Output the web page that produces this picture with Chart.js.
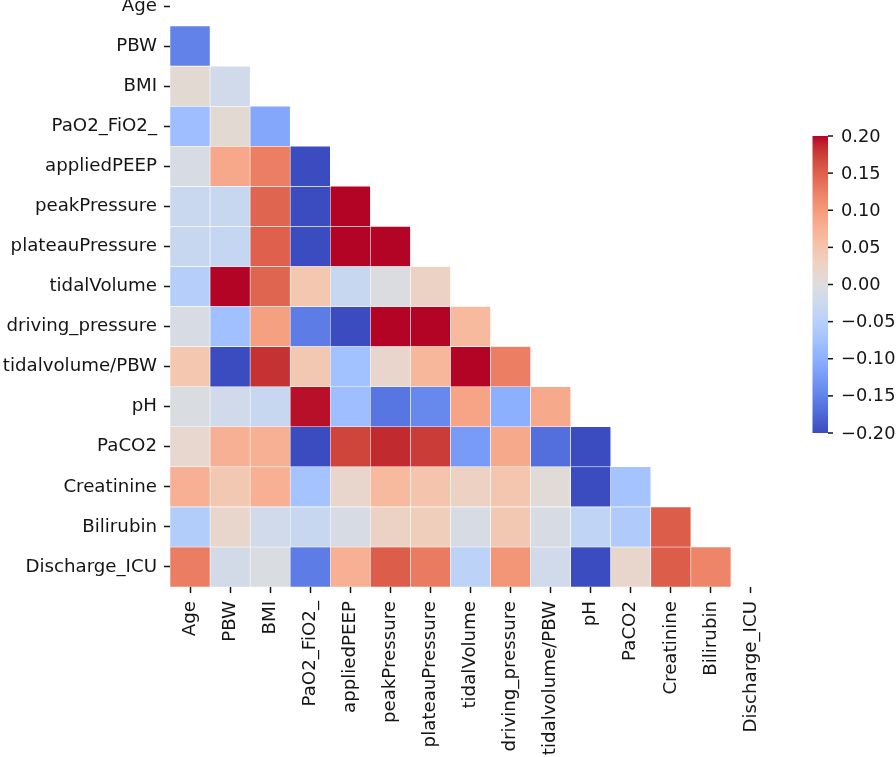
<!DOCTYPE html>
<html>
<head>
<meta charset="utf-8">
<script src="https://cdn.jsdelivr.net/npm/chart.js@4.4.1/dist/chart.umd.min.js"></script>
<style>
  html, body { margin: 0; padding: 0; background: #ffffff; overflow: hidden; }
  #wrap { position: absolute; left: 0; top: -14px; width: 896px; height: 771px; }
</style>
</head>
<body>
<div id="wrap"><canvas id="heat" width="896" height="771"></canvas></div>
<script>
// variable names (rows and columns of the correlation matrix)
const labels = ['Age', 'PBW', 'BMI', 'PaO2_FiO2_', 'appliedPEEP', 'peakPressure', 'plateauPressure',
  'tidalVolume', 'driving_pressure', 'tidalvolume/PBW', 'pH', 'PaCO2', 'Creatinine', 'Bilirubin', 'Discharge_ICU'];

const rowAge = [];
const rowPBW = [-0.15];
const rowBMI = [0.01, -0.02];
const rowPaO2 = [-0.08, 0.01, -0.11];
const rowPEEP = [-0.01, 0.085, 0.125, -0.2];
const rowPeak = [-0.028, -0.03, 0.146, -0.2, 0.2];
const rowPlateau = [-0.03, -0.034, 0.15, -0.2, 0.2, 0.2];
const rowTidal = [-0.052, 0.2, 0.146, 0.046, -0.03, -0.004, 0.026];
const rowDriving = [-0.01, -0.078, 0.094, -0.156, -0.2, 0.2, 0.2, 0.064];
const rowTvPBW = [0.046, -0.2, 0.182, 0.044, -0.076, 0.018, 0.068, 0.2, 0.125];
const rowPH = [-0.006, -0.018, -0.03, 0.196, -0.08, -0.162, -0.144, 0.09, -0.1, 0.084];
const rowPaCO2 = [0.016, 0.076, 0.076, -0.2, 0.17, 0.186, 0.176, -0.124, 0.084, -0.168, -0.2];
const rowCreat = [0.076, 0.044, 0.076, -0.074, 0.018, 0.064, 0.05, 0.028, 0.048, 0.006, -0.2, -0.074];
const rowBili = [-0.056, 0.018, -0.02, -0.03, -0.01, 0.026, 0.034, -0.01, 0.044, -0.01, -0.04, -0.06, 0.152];
const rowDischarge = [0.126, -0.016, -0.006, -0.156, 0.076, 0.152, 0.128, -0.044, 0.104, -0.02, -0.2, 0.018, 0.152, 0.12];

const rows = [rowAge, rowPBW, rowBMI, rowPaO2, rowPEEP, rowPeak, rowPlateau, rowTidal,
  rowDriving, rowTvPBW, rowPH, rowPaCO2, rowCreat, rowBili, rowDischarge];

// colour scale limits and colorbar ticks
const vmin = -0.2, vmax = 0.2;
const cbTicks = [-0.2, -0.15, -0.1, -0.05, 0, 0.05, 0.1, 0.15, 0.2];

// matplotlib "coolwarm" colormap, 33 evenly spaced stops
const coolwarm = [
  [59,76,192],[68,90,204],[77,104,215],[87,117,225],[98,130,234],[108,142,241],[119,154,247],[130,165,251],
  [141,176,254],[152,185,255],[163,194,255],[174,201,253],[184,208,249],[194,213,244],[204,217,238],[213,219,230],
  [221,221,221],[229,216,209],[236,211,197],[241,204,185],[245,196,173],[247,187,160],[247,177,148],[247,166,135],
  [244,154,123],[241,141,111],[236,127,99],[229,112,88],[222,96,77],[213,80,66],[203,62,56],[192,40,47],[180,4,38]
];

function cmap(v) {
  let t = (v - vmin) / (vmax - vmin);
  t = Math.max(0, Math.min(1, t));
  const f = t * (coolwarm.length - 1);
  const i = Math.min(Math.floor(f), coolwarm.length - 2);
  const k = f - i;
  const a = coolwarm[i], b = coolwarm[i + 1];
  const c = a.map((x, n) => Math.round(x + (b[n] - x) * k));
  return `rgb(${c[0]},${c[1]},${c[2]})`;
}

const textColor = '#151515';
const font = { family: '"DejaVu Sans", sans-serif', size: 18.2 };
const cbFont = { family: '"DejaVu Sans", sans-serif', size: 17.8 };

// one floating-bar dataset per row, bar spans [row-0.5, row+0.5]
const datasets = rows.map((vals, r) => ({
  label: labels[r],
  data: labels.map((_, c) => (c < vals.length ? [r - 0.5, r + 0.5] : null)),
  backgroundColor: labels.map((_, c) => (c < vals.length ? cmap(vals[c]) : 'transparent')),
  borderColor: 'rgba(255,255,255,0.95)',
  borderWidth: 0.6,
  borderSkipped: false,
  grouped: false,
  barPercentage: 1,
  categoryPercentage: 1
}));

// colorbar drawn next to the matrix
const colorbarPlugin = {
  id: 'colorbar',
  afterDraw(chart) {
    const ctx = chart.ctx;
    const x0 = 812.5, w = 15.5;
    const yTop = 150, yBot = 447; // canvas coords (page +14)
    const yOf = v => yBot - (v - vmin) / (vmax - vmin) * (yBot - yTop);
    const grad = ctx.createLinearGradient(0, yBot, 0, yTop);
    coolwarm.forEach((c, i) => grad.addColorStop(i / (coolwarm.length - 1), `rgb(${c[0]},${c[1]},${c[2]})`));
    ctx.save();
    ctx.fillStyle = grad;
    ctx.fillRect(x0, yTop, w, yBot - yTop);
    ctx.strokeStyle = textColor;
    ctx.lineWidth = 1.5;
    ctx.fillStyle = textColor;
    ctx.font = `${cbFont.size}px ${cbFont.family}`;
    ctx.textAlign = 'left';
    ctx.textBaseline = 'middle';
    cbTicks.forEach(v => {
      const y = yOf(v);
      ctx.beginPath();
      ctx.moveTo(x0 + w, y);
      ctx.lineTo(x0 + w + 5, y);
      ctx.stroke();
      const txt = v.toFixed(2).replace('-', '\u2212');
      ctx.fillText(txt, x0 + w + 13, y + 1);
    });
    ctx.restore();
  }
};

new Chart(document.getElementById('heat').getContext('2d'), {
  type: 'bar',
  data: { labels: labels, datasets: datasets },
  plugins: [colorbarPlugin],
  options: {
    responsive: false,
    animation: false,
    layout: { padding: { top: 0, right: 125, left: 0, bottom: 0 } },
    plugins: { legend: { display: false }, tooltip: { enabled: false } },
    scales: {
      x: {
        type: 'category',
        offset: true,
        border: { display: false },
        grid: { drawOnChartArea: false, drawTicks: true, offset: false, tickLength: 6, tickWidth: 1.5, tickColor: textColor },
        ticks: { autoSkip: false, maxRotation: 90, minRotation: 90, padding: 8, color: textColor, font: font },
        afterFit(s) { s.height = 170; s.paddingLeft = 0; s.paddingRight = 0; }
      },
      y: {
        type: 'linear',
        min: -0.5,
        max: 14.5,
        reverse: true,
        border: { display: false },
        grid: { drawOnChartArea: false, drawTicks: true, tickLength: 6, tickWidth: 1.5, tickColor: textColor },
        afterBuildTicks(s) { s.ticks = labels.map((_, i) => ({ value: i })); },
        ticks: {
          autoSkip: false,
          padding: 7,
          color: textColor,
          font: font,
          callback: v => labels[Math.round(v)]
        },
        afterFit(s) { s.width = 170; s.paddingTop = 0; s.paddingBottom = 0; }
      }
    }
  }
});
</script>
</body>
</html>
